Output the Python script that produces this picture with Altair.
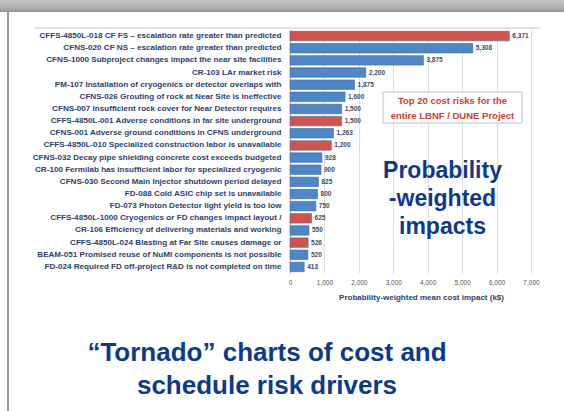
import altair as alt
import pandas as pd

risks = [
    "CFFS-4850L-018 CF FS – escalation rate greater than predicted",
    "CFNS-020 CF NS – escalation rate greater than predicted",
    "CFNS-1000 Subproject changes impact the near site facilities",
    "CR-103 LAr market risk",
    "PM-107 Installation of cryogenics or detector overlaps with",
    "CFNS-026 Grouting of rock at Near Site is ineffective",
    "CFNS-007 Insufficient rock cover for Near Detector requires",
    "CFFS-4850L-001 Adverse conditions in far site underground",
    "CFNS-001 Adverse ground conditions in CFNS underground",
    "CFFS-4850L-010 Specialized construction labor is unavailable",
    "CFNS-032 Decay pipe shielding concrete cost exceeds budgeted",
    "CR-100 Fermilab has insufficient labor for specialized cryogenic",
    "CFNS-030 Second Main Injector shutdown period delayed",
    "FD-088 Cold ASIC chip set is unavailable",
    "FD-073 Photon Detector light yield is too low",
    "CFFS-4850L-1000 Cryogenics or FD changes impact layout /",
    "CR-106 Efficiency of delivering materials and working",
    "CFFS-4850L-024 Blasting at Far Site causes damage or",
    "BEAM-051 Promised reuse of NuMI components is not possible",
    "FD-024 Required FD off-project R&D is not completed on time",
]
impacts = [6371, 5308, 3875, 2200, 1875, 1600, 1500, 1500, 1263, 1200,
           928, 900, 825, 800, 750, 625, 550, 526, 520, 413]
groups = ["Far Site" if r.startswith("CFFS") else "Other" for r in risks]
x_ticks = [0, 1000, 2000, 3000, 4000, 5000, 6000, 7000]

df = pd.DataFrame({"risk": risks, "impact": impacts, "group": groups})

NAVY = "#0b3a8c"
LABEL = "#2b3e6b"
W, H = 241, 243
PL, PT = 290, 30

y_enc = alt.Y("risk:N", sort=risks, title=None,
              scale=alt.Scale(paddingInner=0.22, paddingOuter=0.11),
              axis=alt.Axis(labelFontSize=8.1, labelFont="Liberation Sans",
                            labelFontWeight="bold", labelColor=LABEL,
                            labelLimit=300, ticks=False, labelPadding=9,
                            domainColor="#b0b0b0", grid=False))
x_enc = alt.X("impact:Q", title="Probability-weighted mean cost impact (k$)",
              scale=alt.Scale(domain=[0, 7000], nice=False),
              axis=alt.Axis(values=x_ticks, format=",d", labelFontSize=6.5,
                            labelOverlap=False, labelFlush=False,
                            labelColor="#555555", labelFont="Liberation Sans",
                            ticks=False, labelPadding=6, domain=False,
                            gridColor="#dcdcdc", titleFontSize=8,
                            titleFont="Liberation Sans", titleFontWeight="bold",
                            titleColor=LABEL, titlePadding=8, titleX=131))

bars = alt.Chart(df).mark_bar(stroke="#3d6a9e", strokeWidth=0.6).encode(
    x=x_enc, y=y_enc,
    color=alt.Color("group:N", legend=None,
                    scale=alt.Scale(domain=["Far Site", "Other"],
                                    range=["#d0554e", "#4f86c6"])),
)
values = alt.Chart(df).mark_text(align="left", dx=3, fontSize=6.5,
                                 font="Liberation Sans", fontWeight="bold",
                                 color="#3a4a6a").encode(
    x=x_enc, y=y_enc,
    text=alt.Text("impact:Q", format=",d"),
)

one = pd.DataFrame({"k": [0]})
top_bar = alt.Chart(one).mark_rect(
    fill=alt.Gradient(gradient="linear", x1=0, x2=0, y1=0, y2=1,
                      stops=[alt.GradientStop(color="#c4c4c4", offset=0),
                             alt.GradientStop(color="#a8a8a8", offset=0.8),
                             alt.GradientStop(color="#8c8c8c", offset=1)])
).encode(x=alt.value(-PL), x2=alt.value(564 - PL), y=alt.value(-PT), y2=alt.value(12 - PT))
left_line = alt.Chart(one).mark_rect(color="#9a9a9a").encode(
    x=alt.value(7 - PL), x2=alt.value(9 - PL), y=alt.value(12 - PT), y2=alt.value(411 - PT))
top_rule = alt.Chart(one).mark_rule(color="#c8c8c8", strokeWidth=1).encode(
    x=alt.value(35 - PL), x2=alt.value(540 - PL), y=alt.value(28 - PT))

box = alt.Chart(one).mark_rect(fill="white", stroke="#c0c0c0", strokeWidth=1).encode(
    x=alt.value(383 - PL), x2=alt.value(522 - PL), y=alt.value(92 - PT), y2=alt.value(123 - PT))
box_text = alt.Chart(one).mark_text(
    align="center", baseline="middle", lineBreak="\n", lineHeight=14.5,
    fontSize=9.5, font="Liberation Sans", fontWeight="bold", color="#d23a32"
).encode(x=alt.value(452.5 - PL), y=alt.value(101 - PT),
         text=alt.value("Top 20 cost risks for the\nentire LBNF / DUNE Project"))

prob_text = alt.Chart(one).mark_text(
    align="center", baseline="middle", lineBreak="\n", lineHeight=28,
    fontSize=23, font="Liberation Sans", fontWeight="bold", color=NAVY
).encode(x=alt.value(442.5 - PL), y=alt.value(171 - PT),
         text=alt.value("Probability\n-weighted\nimpacts"))

title_text = alt.Chart(one).mark_text(
    align="center", baseline="middle", lineBreak="\n", lineHeight=33,
    fontSize=26, font="Liberation Sans", fontWeight="bold", color=NAVY
).encode(x=alt.value(267 - PL), y=alt.value(353 - PT),
         text=alt.value("\u201cTornado\u201d charts of cost and\nschedule risk drivers"))

chart = alt.layer(top_bar, left_line, top_rule, bars, values, box, box_text,
                  prob_text, title_text).properties(
    width=W, height=H,
    autosize=alt.AutoSizeParams(type="none"),
    padding={"left": PL, "top": PT, "right": 564 - PL - W, "bottom": 411 - PT - H},
    background="white",
).configure_view(stroke=None).configure_axisX(labelOverlap=False)

chart.save("out.html", embed_options={"renderer": "svg", "actions": False})
